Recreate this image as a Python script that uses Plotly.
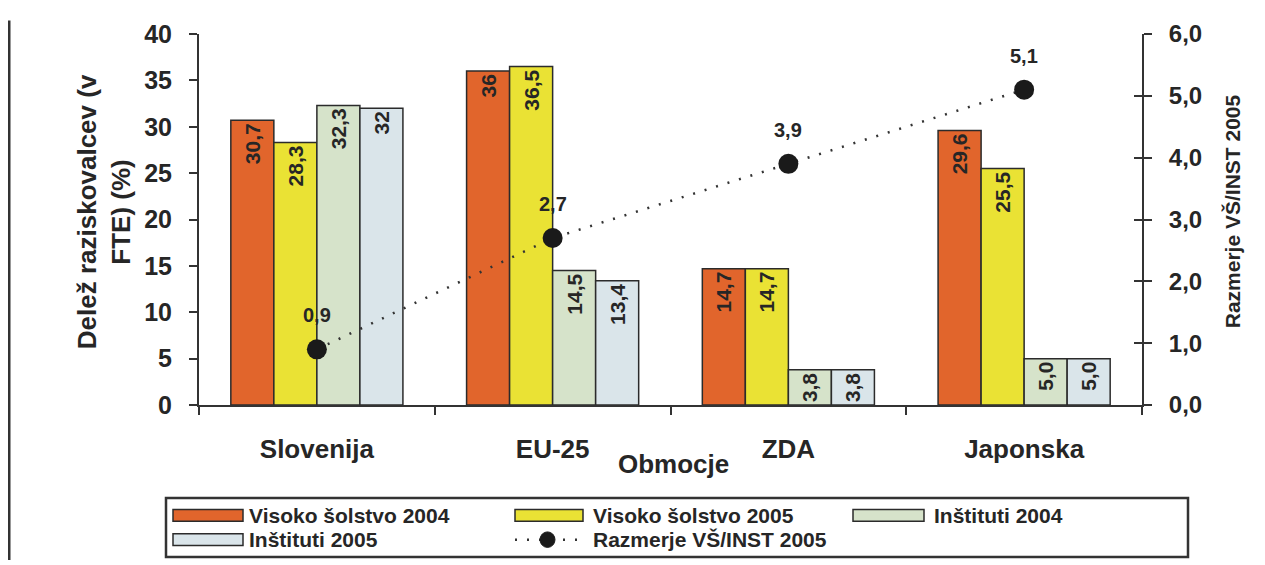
import plotly.graph_objects as go

# ---- data ----
categories = ["Slovenija", "EU-25", "ZDA", "Japonska"]
vs_2004 = [30.7, 36.0, 14.7, 29.6]
vs_2005 = [28.3, 36.5, 14.7, 25.5]
inst_2004 = [32.3, 14.5, 3.8, 5.0]
inst_2005 = [32.0, 13.4, 3.8, 5.0]
ratio_2005 = [0.9, 2.7, 3.9, 5.1]

vs_2004_lbl = ["30,7", "36", "14,7", "29,6"]
vs_2005_lbl = ["28,3", "36,5", "14,7", "25,5"]
inst_2004_lbl = ["32,3", "14,5", "3,8", "5,0"]
inst_2005_lbl = ["32", "13,4", "3,8", "5,0"]
ratio_lbl = ["0,9", "2,7", "3,9", "5,1"]

series_names = ["Visoko šolstvo 2004", "Visoko šolstvo 2005", "Inštituti 2004", "Inštituti 2005"]
line_name = "Razmerje VŠ/INST 2005"
colors = ["#E1652C", "#EAE234", "#D6E3CA", "#DAE5EA"]

FONT = "Arial, 'Liberation Sans', Helvetica, sans-serif"
DARK = "#262626"
# the page body has an 8px margin, so the figure is drawn 8px in from the window edge
OFF = 8
W, H = 1265 - OFF, 565 - OFF
# plot area in window pixels: x 199..1142, y 22..405
L, R, T, B = 199 - OFF, 1265 - 1142, 22 - OFF, 565 - 405
PW, PH = W - L - R, H - T - B


def px(x):
    """window pixel x -> paper x"""
    return (x - OFF - L) / PW


def py(y):
    """window pixel y -> paper y"""
    return (H - B - (y - OFF)) / PH


fig = go.Figure()
for vals, lbls, name, col in zip(
    [vs_2004, vs_2005, inst_2004, inst_2005],
    [vs_2004_lbl, vs_2005_lbl, inst_2004_lbl, inst_2005_lbl],
    series_names, colors):
    fig.add_trace(go.Bar(
        x=categories, y=vals, name=name, text=lbls,
        textposition="inside", textangle=-90, insidetextanchor="end",
        textfont=dict(family=FONT, size=21, color=DARK, weight="bold"),
        marker=dict(color=col, line=dict(color="#2b2b2b", width=1.5)),
        showlegend=False, cliponaxis=False,
    ))

fig.add_trace(go.Scatter(
    x=categories, y=ratio_2005, yaxis="y2", name=line_name,
    mode="lines+markers",
    line=dict(color="#333333", width=2.5, dash="2px,10px"),
    marker=dict(color="#1a1a1a", size=20),
    showlegend=False,
))
# helper invisible trace for the inner-tick overlay axis
fig.add_trace(go.Scatter(x=categories, y=ratio_2005, yaxis="y3", mode="markers",
                         marker=dict(opacity=0), hoverinfo="skip", showlegend=False))

annotations = []
for c, v, t in zip(categories, ratio_2005, ratio_lbl):
    annotations.append(dict(x=c, y=v, xref="x", yref="y2", text=t, showarrow=False,
                            yshift=34, font=dict(family=FONT, size=20, color=DARK, weight="bold")))

annotations += [
    dict(x=px(104), y=py(206), xref="paper", yref="paper", textangle=-90,
         text="Delež raziskovalcev (v<br>FTE) (%)", showarrow=False, align="center",
         xanchor="center", yanchor="middle",
         font=dict(family=FONT, size=26, color=DARK, weight="bold")),
    dict(x=px(1232), y=py(205), xref="paper", yref="paper", textangle=-90,
         text="Razmerje VŠ/INST 2005", showarrow=False, xanchor="center", yanchor="middle",
         font=dict(family=FONT, size=21, color=DARK, weight="bold")),
    dict(x=px(673), y=py(466), xref="paper", yref="paper", text="Obmocje", showarrow=False,
         xanchor="center", yanchor="middle",
         font=dict(family=FONT, size=26, color=DARK, weight="bold")),
]

shapes = [
    # left frame line
    dict(type="line", xref="paper", yref="paper", x0=px(9), x1=px(9), y0=py(OFF), y1=py(565),
         line=dict(color="#333333", width=3)),
    # legend box
    dict(type="rect", xref="paper", yref="paper", x0=px(166), x1=px(1188), y0=py(501), y1=py(562),
         line=dict(color="#333333", width=2.5), fillcolor="white"),
]

# manual legend
leg_items = [
    (173, 243, 519, colors[0], series_names[0], 247),
    (515, 583, 519, colors[1], series_names[1], 591),
    (853, 924, 519, colors[2], series_names[2], 932),
    (173, 243, 544, colors[3], series_names[3], 247),
]
for x0, x1, yc, col, name, tx in leg_items:
    shapes.append(dict(type="rect", xref="paper", yref="paper", x0=px(x0), x1=px(x1),
                       y0=py(yc - 6), y1=py(yc + 6), fillcolor=col,
                       line=dict(color="#2b2b2b", width=1.5)))
    annotations.append(dict(x=px(tx), y=py(yc), xref="paper", yref="paper", text=name,
                            showarrow=False, xanchor="left", yanchor="middle",
                            font=dict(family=FONT, size=21, color=DARK, weight="bold")))
shapes.append(dict(type="line", xref="paper", yref="paper", x0=px(515), x1=px(583),
                   y0=py(544), y1=py(544), line=dict(color="#333333", width=2.5, dash="2px,10px")))
shapes.append(dict(type="circle", xref="paper", yref="paper", x0=px(540), x1=px(555),
                   y0=py(536), y1=py(552), fillcolor="#1a1a1a", line=dict(color="#1a1a1a", width=1)))
annotations.append(dict(x=px(591), y=py(544), xref="paper", yref="paper", text=line_name,
                        showarrow=False, xanchor="left", yanchor="middle",
                        font=dict(family=FONT, size=21, color=DARK, weight="bold")))

fig.update_layout(
    width=W, height=H,
    margin=dict(l=L, r=R, t=T, b=B, pad=0),
    paper_bgcolor="white", plot_bgcolor="white",
    barmode="group", bargap=0.27, bargroupgap=0,
    separators=",.",
    font=dict(family=FONT, color=DARK),
    xaxis=dict(type="category", showline=True, linecolor="#333333", linewidth=2,
               ticks="outside", tickson="boundaries", ticklen=8, tickwidth=2, tickcolor="#333333",
               ticklabelstandoff=20, showgrid=False, zeroline=False,
               tickfont=dict(family=FONT, size=26, color=DARK, weight="bold")),
    yaxis=dict(range=[0, 40], dtick=5, showline=True, linecolor="#333333", linewidth=2,
               ticks="outside", ticklen=8, tickwidth=2, tickcolor="#333333",
               ticklabelstandoff=12, showgrid=False, zeroline=False,
               tickfont=dict(family=FONT, size=25, color=DARK, weight="bold")),
    yaxis2=dict(range=[0, 6], dtick=1, tickformat=".1f", overlaying="y", side="right",
                anchor="x", showline=True, linecolor="#333333", linewidth=2,
                ticks="outside", ticklen=8, tickwidth=2, tickcolor="#333333",
                ticklabelstandoff=12, showgrid=False, zeroline=False,
                tickfont=dict(family=FONT, size=24, color=DARK, weight="bold")),
    yaxis3=dict(range=[0, 6], dtick=1, overlaying="y", side="right", anchor="x",
                showline=False, ticks="inside", ticklen=8, tickwidth=2, tickcolor="#333333",
                showticklabels=False, showgrid=False, zeroline=False),
    shapes=shapes,
    annotations=annotations,
    showlegend=False,
)

fig.write_html("out.html")
